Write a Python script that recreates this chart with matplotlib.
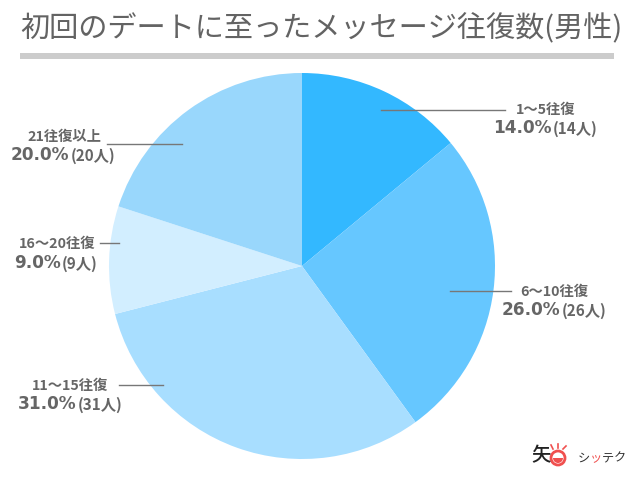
import matplotlib
matplotlib.use("Agg")
import matplotlib.pyplot as plt
from matplotlib.patches import Rectangle, Circle, Wedge

plt.rcParams['font.family'] = ['Noto Sans CJK JP', 'DejaVu Sans']

title = "初回のデートに至ったメッセージ往復数(男性)"
categories = ["1〜5往復", "6〜10往復", "11〜15往復", "16〜20往復", "21往復以上"]
values = [14, 26, 31, 9, 20]
percents = ["14.0%", "26.0%", "31.0%", "9.0%", "20.0%"]
counts = ["(14人)", "(26人)", "(31人)", "(9人)", "(20人)"]
colors = ["#33B8FF", "#66C7FF", "#A8DEFF", "#D2EEFF", "#99D7FC"]

W, H = 640, 488
fig = plt.figure(figsize=(W / 100, H / 100), dpi=100, facecolor="white")

cx, cy, r = 302, 266, 193
ax = fig.add_axes([(cx - r) / W, 1 - (cy + r) / H, 2 * r / W, 2 * r / H])
ax.pie(values, colors=colors, startangle=90, counterclock=False, radius=1,
       wedgeprops=dict(linewidth=0))
ax.set_xlim(-1, 1)
ax.set_ylim(-1, 1)
ax.set_aspect("equal")
ax.axis("off")

ov = fig.add_axes([0, 0, 1, 1], facecolor="none")
ov.set_xlim(0, W)
ov.set_ylim(H, 0)
ov.axis("off")

GREY = "#666666"
ov.text(20, 29, title, fontsize=21, color="#636363", va="center", ha="left")
ov.add_patch(Rectangle((20, 53), 594, 6, color="#cccccc", lw=0))

# label layout: category centre x, y; percent left x, y; leader x0, x1, y
layout = [
    (546, 110, 493, 128, 381, 505, 110),
    (554, 292, 502, 310, 450, 511, 291),
    (70, 386, 18, 404, 119, 163, 385),
    (57, 244, 14, 263, 100, 119, 243),
    (64, 137, 11, 155, 107, 182, 144),
]
for i, (cxl, yc, xp, yp, x0, x1, yl) in enumerate(layout):
    ov.text(cxl, yc, categories[i], fontsize=10.3, color=GREY, fontweight="bold", ha="center", va="center")
    t = ov.text(xp, yp, percents[i], fontsize=12.2, color=GREY, fontweight="bold", ha="left", va="center",
                family="DejaVu Sans")
    fig.canvas.draw()
    bb = t.get_window_extent().transformed(ov.transData.inverted())
    ov.text(bb.x1 + 1, yp + 1, counts[i], fontsize=11, color=GREY, fontweight="bold", ha="left", va="center")
    ov.plot([x0, x1], [yl, yl], color="#777777", lw=1)

# logo
RED = "#F0504F"
ov.text(541, 456, "矢", fontsize=14, color="#222222", ha="center", va="center", fontweight="medium")
ov.add_patch(Circle((558, 458), 7, fc="white", ec=RED, lw=2))
ov.add_patch(Wedge((558, 458), 5, 0, 180, fc=RED, lw=0))
for x0, y0, x1, y1 in [(553, 449, 551, 445), (558, 448, 558, 444), (563, 449, 566, 446)]:
    ov.plot([x0, x1], [y0, y1], color=RED, lw=1.2)
for ch, x, c in zip("シッテク", [584, 596, 608, 620], ["#333333", RED, "#333333", "#333333"]):
    ov.text(x, 458, ch, fontsize=8.8, color=c, ha="center", va="center")

fig.savefig("out.png", dpi=100)
